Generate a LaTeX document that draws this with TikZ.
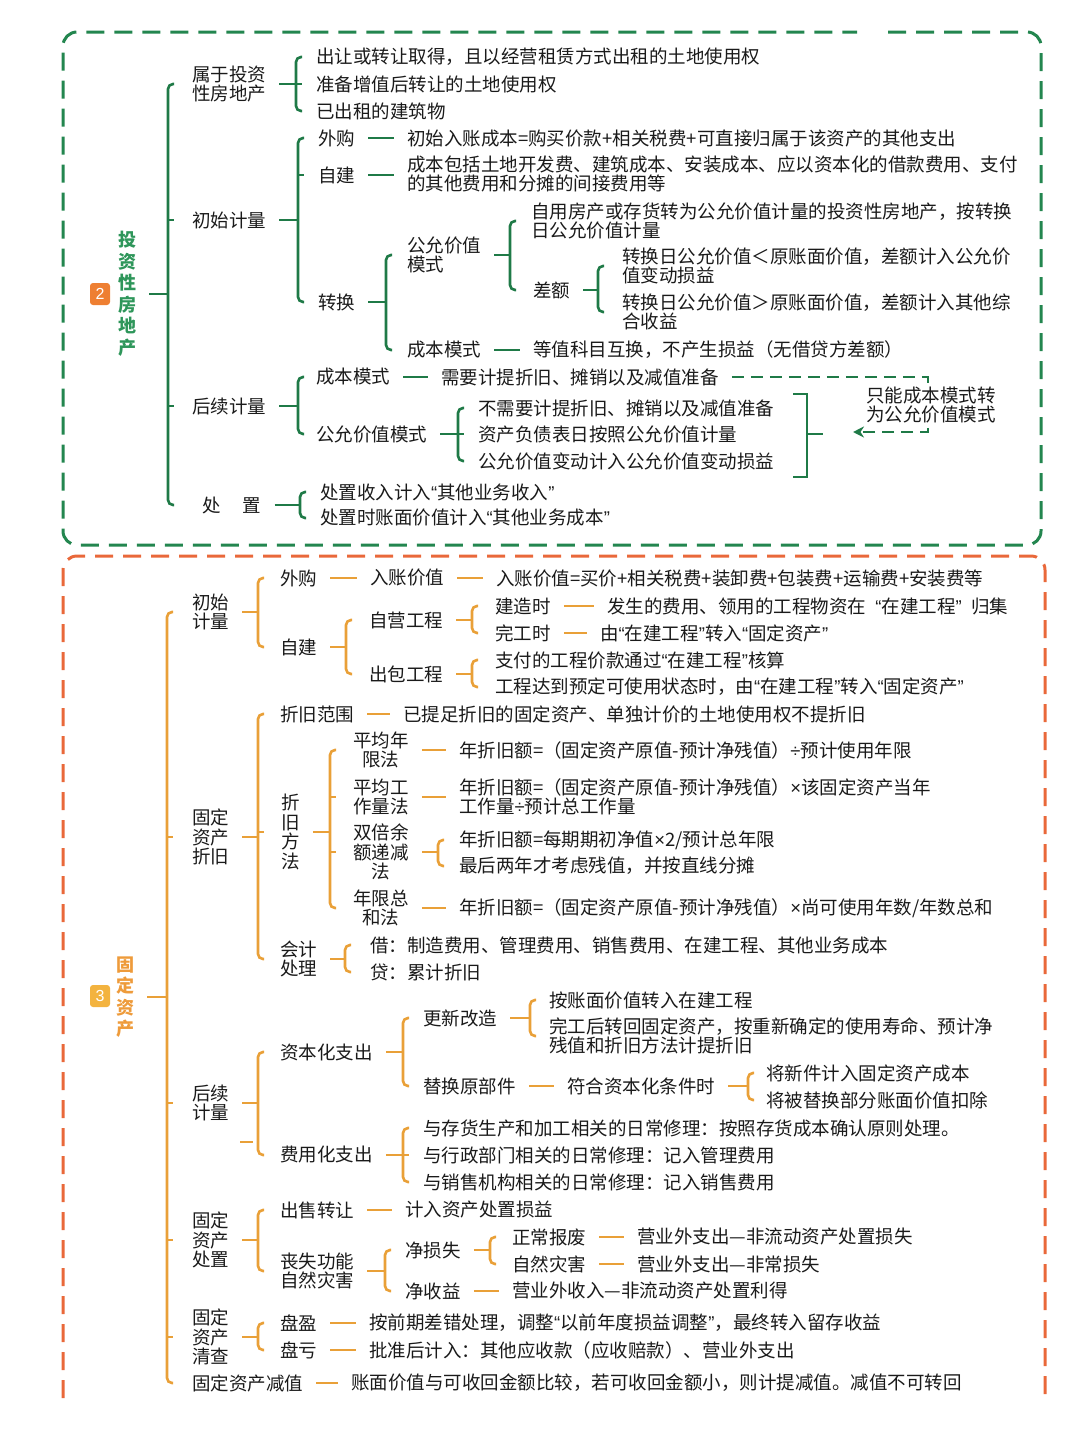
\documentclass[tikz,border=0pt]{standalone}
\usepackage{fontspec}
\setmainfont{Noto Sans CJK SC}
\newfontfamily\lat{Liberation Sans}
\newcommand\oq{{\lat “}}
\newcommand\cq{{\lat ”}}
\newcommand\tms{{\lat ×}}
\newcommand\dvd{{\lat ÷}}
\usetikzlibrary{calc,arrows.meta}
\definecolor{gl}{HTML}{1F7A47}
\definecolor{gb}{HTML}{23864F}
\definecolor{gt}{HTML}{2E965A}
\definecolor{ol}{HTML}{E9A038}
\definecolor{ob}{HTML}{E9683A}
\definecolor{ot}{HTML}{EE9B3B}
\definecolor{bdtwo}{HTML}{EE7F32}
\definecolor{bdthree}{HTML}{F3B33F}
\definecolor{tx}{HTML}{1A1A1A}
\newcommand\Br[5]{%
  \coordinate (bx) at (#2,0);
  \draw[ln] (#1.east) -- (#1.east -| bx);
  \draw[ln,rounded corners=5pt] ($(#3.west -| bx)+(6,0)$) -- (#3.west -| bx) -- (#4.west -| bx) -- ($(#4.west -| bx)+(6,0)$);
  \if\relax\detokenize{#5}\relax\else
    \foreach \nn in {#5}{\draw[ln] (\nn.west -| bx) -- ($(\nn.west -| bx)+(6,0)$);}
  \fi}
\newcommand\Ln[2]{\draw[ln] (#1.east) -- (#1.east -| #2.west);}
\tikzset{
  t/.style={anchor=west, xshift=-13pt, inner xsep=13pt, inner ysep=1pt, align=left, text=tx, font=\fontsize{18.5}{19.5}\selectfont},
  tc/.style={t, align=center},
  tt/.style={inner xsep=13pt, inner ysep=1pt, align=center, font=\fontsize{18}{21.5}\selectfont\bfseries},
  badge/.style={rounded corners=3pt, minimum width=20pt, minimum height=22pt, inner sep=0pt, text=white, font=\lat\fontsize{16}{16}\selectfont},
  border/.style={line width=3pt, dash pattern=on 18pt off 10pt, rounded corners=14pt},
}
\begin{document}
\begin{tikzpicture}[x=1pt,y=-1pt]
\useasboundingbox (0,0) rectangle (1080,1440);
% ================= borders
\draw[gb,border] (888,32) -- (1041,32) -- (1041,545) -- (63,545) -- (63,32) -- (857,32);
\draw[ob,border] (63,1398) -- (63,556) -- (1045,556) -- (1045,1400);
% ================= TOP SECTION
\begin{scope}[ln/.style={draw=gl, line width=2.6pt}]
\node[badge,fill=bdtwo] (bg2) at (100,294) {2};
\node[tt,text=gt] (T2) at (127,294) {投\\资\\性\\房\\地\\产};
\node[t] (a1) at (192,84) {属于投资\\性房地产};
\node[t] (a2) at (192,220) {初始计量};
\node[t] (a3) at (192,406) {后续计量};
\node[t] (a4) at (202,505) {处\hspace{1.2em}置};
\Br{T2}{168}{a1}{a4}{a2,a3}
\node[t] (b1) at (316,57) {出让或转让取得，且以经营租赁方式出租的土地使用权};
\node[t] (b2) at (316,84) {准备增值后转让的土地使用权};
\node[t] (b3) at (316,111) {已出租的建筑物};
\Br{a1}{296}{b1}{b3}{b2}
\node[t] (c1) at (318,138) {外购};
\node[t] (c2) at (318,175) {自建};
\node[t] (c3) at (318,302) {转换};
\Br{a2}{298}{c1}{c3}{c2}
\node[t] (c1t) at (407,138) {初始入账成本=购买价款+相关税费+可直接归属于该资产的其他支出};
\node[t] (c2t) at (407,174) {成本包括土地开发费、建筑成本、安装成本、应以资本化的借款费用、支付\\的其他费用和分摊的间接费用等};
\Ln{c1}{c1t}
\Ln{c2}{c2t}
\node[t] (d1) at (407,255) {公允价值\\模式};
\node[t] (d2) at (407,350) {成本模式};
\Br{c3}{386}{d1}{d2}{}
\node[t] (e1) at (531,221) {自用房产或存货转为公允价值计量的投资性房地产，按转换\\日公允价值计量};
\node[t] (e2) at (533,290) {差额};
\Br{d1}{510}{e1}{e2}{}
\node[t] (f1) at (622,266) {转换日公允价值＜原账面价值，差额计入公允价\\值变动损益};
\node[t] (f2) at (622,312) {转换日公允价值＞原账面价值，差额计入其他综\\合收益};
\Br{e2}{598}{f1}{f2}{}
\node[t] (d2t) at (533,350) {等值科目互换，不产生损益（无借贷方差额）};
\Ln{d2}{d2t}
\node[t] (g1) at (316,377) {成本模式};
\node[t] (g2) at (316,434) {公允价值模式};
\Br{a3}{298}{g1}{g2}{}
\node[t] (g1t) at (441,377) {需要计提折旧、摊销以及减值准备};
\Ln{g1}{g1t}
\node[t] (h1) at (478,408) {不需要计提折旧、摊销以及减值准备};
\node[t] (h2) at (478,434) {资产负债表日按照公允价值计量};
\node[t] (h3) at (478,461) {公允价值变动计入公允价值变动损益};
\Br{g2}{458}{h1}{h3}{h2}
\draw[ln] (793,394) -- (807,394) -- (807,477) -- (793,477);
\draw[ln] (807,434) -- (823,434);
\coordinate (dk1) at (928,377);
\coordinate (dk2) at (928,432);
\coordinate (dk3) at (853,432);
\draw[ln, dash pattern=on 12pt off 7pt, -{Stealth[length=11pt,width=11pt]}] (g1t.east) -- (dk1) -- (dk2) -- (dk3);
\node[t, fill=white, inner ysep=2pt, inner xsep=2pt, xshift=11pt] (nt) at (866,405) {只能成本模式转\\为公允价值模式};
\node[t] (i1) at (320,492) {处置收入计入\oq 其他业务收入\cq};
\node[t] (i2) at (320,518) {处置时账面价值计入\oq 其他业务成本\cq};
\Br{a4}{300}{i1}{i2}{}
\end{scope}
% ================= BOTTOM SECTION
\begin{scope}[ln/.style={draw=ol, line width=2.6pt}]
\node[badge,fill=bdthree] (bg3) at (100,996) {3};
\node[tt,text=ot] (T3) at (125,997) {固\\定\\资\\产};
\node[t] (A1) at (192,612) {初始\\计量};
\node[t] (A2) at (192,837) {固定\\资产\\折旧};
\node[t] (A3) at (192,1103) {后续\\计量};
\node[t] (A4) at (192,1240) {固定\\资产\\处置};
\node[t] (A5) at (192,1337) {固定\\资产\\清查};
\node[t] (A6) at (192,1383) {固定资产减值};
\Br{T3}{167}{A1}{A6}{A2,A3,A4,A5}
% 初始计量
\node[t] (B1) at (280,578) {外购};
\node[t] (B2) at (280,647) {自建};
\Br{A1}{258}{B1}{B2}{}
\node[t] (B1a) at (370,578) {入账价值};
\node[t] (B1b) at (496,578) {入账价值=买价+相关税费+装卸费+包装费+运输费+安装费等};
\Ln{B1}{B1a}
\Ln{B1a}{B1b}
\node[t] (C1) at (369,620) {自营工程};
\node[t] (C2) at (369,674) {出包工程};
\Br{B2}{346}{C1}{C2}{}
\node[t] (D1) at (495,606) {建造时};
\node[t] (D2) at (495,633) {完工时};
\Br{C1}{472}{D1}{D2}{}
\node[t] (D1t) at (607,606) {发生的费用、领用的工程物资在\hspace{0.5em}\oq 在建工程\cq\hspace{0.5em}归集};
\node[t] (D2t) at (600,633) {由\oq 在建工程\cq 转入\oq 固定资产\cq};
\Ln{D1}{D1t}
\Ln{D2}{D2t}
\node[t] (D3) at (495,660) {支付的工程价款通过\oq 在建工程\cq 核算};
\node[t] (D4) at (495,687) {工程达到预定可使用状态时，由\oq 在建工程\cq 转入\oq 固定资产\cq};
\Br{C2}{472}{D3}{D4}{}
% 固定资产折旧
\node[t] (E1) at (280,714) {折旧范围};
\node[t] (E2) at (281,832) {折\\旧\\方\\法};
\node[t] (E3) at (280,959) {会计\\处理};
\Br{A2}{258}{E1}{E3}{E2}
\node[t] (E1t) at (403,714) {已提足折旧的固定资产、单独计价的土地使用权不提折旧};
\Ln{E1}{E1t}
\node[tc] (F1) at (353,750) {平均年\\限法};
\node[tc] (F2) at (353,797) {平均工\\作量法};
\node[tc] (F3) at (353,852) {双倍余\\额递减\\法};
\node[tc] (F4) at (353,908) {年限总\\和法};
\Br{E2}{330}{F1}{F4}{F2,F3}
\node[t] (F1t) at (459,750) {年折旧额=（固定资产原值-预计净残值）\dvd 预计使用年限};
\node[t] (F2t) at (459,797) {年折旧额=（固定资产原值-预计净残值）\tms 该固定资产当年\\工作量\dvd 预计总工作量};
\Ln{F1}{F1t}
\Ln{F2}{F2t}
\node[t] (G1) at (459,840) {年折旧额=每期期初净值\tms 2/预计总年限};
\node[t] (G2) at (459,866) {最后两年才考虑残值，并按直线分摊};
\Br{F3}{438}{G1}{G2}{}
\node[t] (F4t) at (459,908) {年折旧额=（固定资产原值-预计净残值）\tms 尚可使用年数/年数总和};
\Ln{F4}{F4t}
\node[t] (H1) at (370,945) {借：制造费用、管理费用、销售费用、在建工程、其他业务成本};
\node[t] (H2) at (370,972) {贷：累计折旧};
\Br{E3}{345}{H1}{H2}{}
% 后续计量
\node[t] (I1) at (280,1052) {资本化支出};
\node[t] (I2) at (280,1155) {费用化支出};
\Br{A3}{258}{I1}{I2}{}
\draw[ln] (240,1142) -- (253,1142);
\node[t] (J1) at (423,1018) {更新改造};
\node[t] (J2) at (423,1086) {替换原部件};
\Br{I1}{403}{J1}{J2}{}
\node[t] (K1) at (549,1000) {按账面价值转入在建工程};
\node[t] (K2) at (549,1036) {完工后转回固定资产，按重新确定的使用寿命、预计净\\残值和折旧方法计提折旧};
\Br{J1}{530}{K1}{K2}{}
\node[t] (J2a) at (567,1086) {符合资本化条件时};
\Ln{J2}{J2a}
\node[t] (K3) at (766,1073) {将新件计入固定资产成本};
\node[t] (K4) at (766,1100) {将被替换部分账面价值扣除};
\Br{J2a}{748}{K3}{K4}{}
\node[t] (L1) at (423,1128) {与存货生产和加工相关的日常修理：按照存货成本确认原则处理。};
\node[t] (L2) at (423,1155) {与行政部门相关的日常修理：记入管理费用};
\node[t] (L3) at (423,1182) {与销售机构相关的日常修理：记入销售费用};
\Br{I2}{403}{L1}{L3}{L2}
% 固定资产处置
\node[t] (M1) at (280,1210) {出售转让};
\node[t] (M2) at (280,1271) {丧失功能\\自然灾害};
\Br{A4}{258}{M1}{M2}{}
\node[t] (M1t) at (405,1210) {计入资产处置损益};
\Ln{M1}{M1t}
\node[t] (N1) at (405,1250) {净损失};
\node[t] (N2) at (405,1291) {净收益};
\Br{M2}{385}{N1}{N2}{}
\node[t] (O1) at (512,1237) {正常报废};
\node[t] (O2) at (512,1264) {自然灾害};
\Br{N1}{490}{O1}{O2}{}
\node[t] (O1t) at (637,1237) {营业外支出—非流动资产处置损失};
\node[t] (O2t) at (637,1264) {营业外支出—非常损失};
\Ln{O1}{O1t}
\Ln{O2}{O2t}
\node[t] (N2t) at (512,1291) {营业外收入—非流动资产处置利得};
\Ln{N2}{N2t}
% 固定资产清查
\node[t] (P1) at (280,1323) {盘盈};
\node[t] (P2) at (280,1350) {盘亏};
\Br{A5}{258}{P1}{P2}{}
\node[t] (P1t) at (369,1323) {按前期差错处理，调整\oq 以前年度损益调整\cq，最终转入留存收益};
\node[t] (P2t) at (369,1350) {批准后计入：其他应收款（应收赔款）、营业外支出};
\Ln{P1}{P1t}
\Ln{P2}{P2t}
% 固定资产减值
\node[t] (A6t) at (351,1383) {账面价值与可收回金额比较，若可收回金额小，则计提减值。减值不可转回};
\Ln{A6}{A6t}
\end{scope}
\end{tikzpicture}
\end{document}
